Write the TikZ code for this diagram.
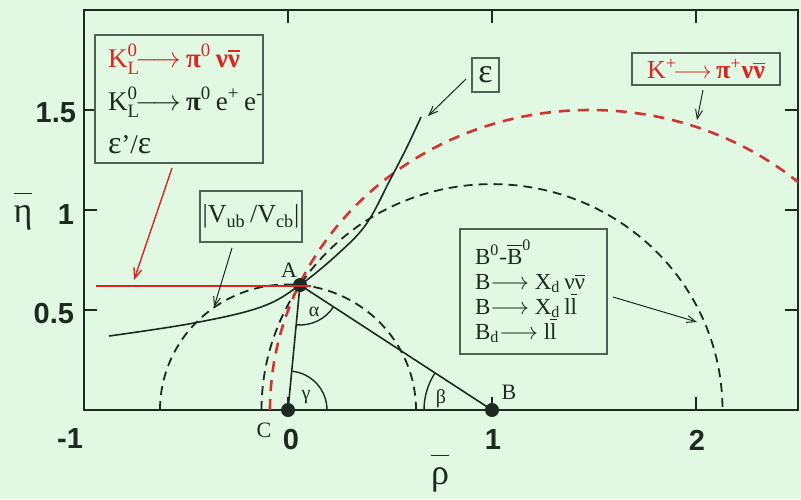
\documentclass[tikz,border=0pt]{standalone}
\usepackage{amsmath}
\usepackage{fontspec}
\setmainfont{Liberation Serif}
\newfontfamily\ticksf{Liberation Sans}
\usetikzlibrary{arrows.meta,angles}

\definecolor{bg}{RGB}{225,249,227}
\definecolor{ink}{RGB}{28,42,32}
\definecolor{boxc}{RGB}{80,98,86}
\definecolor{redt}{RGB}{218,38,32}
\definecolor{redd}{RGB}{212,52,48}

\newcommand{\linesbox}[2]{\vbox{\baselineskip=#1\lineskiplimit=-40pt\relax\lineskip=0pt\relax #2}}
\newcommand{\kline}[1]{\hbox to 71pt{#1\hfil}}
\newcommand{\bline}[1]{\hbox to 58.5pt{#1\hfil}}

\begin{document}
\begin{tikzpicture}[x=0.5pt,y=-0.5pt,
  every node/.style={inner sep=0pt, outer sep=0pt, text=ink},
  frame/.style={draw=ink, line width=1pt},
  tickm/.style={draw=ink, line width=0.9pt},
  ticklab/.style={font=\ticksf\bfseries\fontsize{14.5}{16}\selectfont},
  bdash/.style={draw=ink, line width=0.9pt, dash pattern=on 4.5pt off 3pt},
  rdash/.style={draw=redd, line width=1.3pt, dash pattern=on 5.5pt off 4pt},
  solidc/.style={draw=ink, line width=0.8pt},
  ptr/.style={draw=ink, line width=0.5pt, -{Straight Barb[length=4.5pt,width=3.5pt]}},
  rptr/.style={draw=redt, line width=0.7pt, -{Straight Barb[length=5pt,width=4pt]}},
  lbox/.style={draw=boxc, line width=0.8pt, fill=bg},
  dotn/.style={circle, fill=ink, minimum size=7pt},
  ptlab/.style={font=\fontsize{11}{12}\selectfont},
  anglab/.style={font=\fontsize{10}{11}\selectfont},
  axlab/.style={font=\fontsize{18}{20}\selectfont, anchor=base},
]
\fill[bg] (0,0) rectangle (801,499);
\useasboundingbox (0,0) rectangle (801,499);

% frame and ticks
\draw[frame] (84,10) rectangle (798,410);
\foreach \yy in {110,210,310}{
  \draw[tickm] (84,\yy) -- (97,\yy);
  \draw[tickm] (798,\yy) -- (785,\yy);
}
\foreach \xx in {288,492,696}{
  \draw[tickm] (\xx,10) -- (\xx,23);
  \draw[tickm] (\xx,410) -- (\xx,397);
}

% tick labels
\node[ticklab, anchor=east] (l15) at (76,113) {1.5};
\node[ticklab, anchor=east] (l1) at (74,215) {1};
\node[ticklab, anchor=east] (l05) at (74,314) {0.5};
\node[ticklab] (lm1) at (70,439) {-1};
\node[ticklab] (l0) at (291,440) {0};
\node[ticklab] (lx1) at (493,440) {1};
\node[ticklab] (lx2) at (697,440) {2};
\node[axlab] (etalab) at (23,222) {$\overline{\vphantom{T}\text{η}}$};
\node[axlab] (rholab) at (440,484) {$\overline{\vphantom{T}\text{ρ}}$};

% key points
\coordinate (A) at (300,285);
\coordinate (C) at (288,410);
\coordinate (B) at (492,410);

% curves
\begin{scope}
\clip (84,10) rectangle (798,410);
\draw[bdash] (160,410) arc[start angle=180, end angle=360, x radius=128, y radius=125.6];
\draw[bdash] (261.5,410) arc[start angle=180, end angle=360, x radius=230.5, y radius=225.9];
\draw[rdash] (270,410) arc[start angle=180, end angle=360, x radius=320, y radius=300];
\end{scope}
\draw[solidc] plot[smooth, tension=0.6] coordinates {(109,336) (194,323) (261,307) (300,285) (340,252) (367,223) (390,180) (407,147) (421,117)};

% triangle
\draw[solidc] (A) -- (C);
\draw[solidc] (A) -- (B);
\pic[draw=ink, line width=0.7pt, angle radius=19.5pt] {angle=B--C--A};
\pic[draw=ink, line width=0.7pt, angle radius=20pt] {angle=C--A--B};
\pic[draw=ink, line width=0.7pt, angle radius=34pt] {angle=A--B--C};
\node[dotn] (Adot) at (A) {};
\node[dotn] (Cdot) at (C) {};
\node[dotn] (Bdot) at (B) {};

% red horizontal constraint
\coordinate (redL) at (96,286);
\coordinate (redR) at (311,286);
\draw[draw=redt, line width=1pt] (redL) -- (redR);

% point and angle labels
\node[ptlab] (Alab) at (289,270) {A};
\node[ptlab] (Blab) at (509,392) {B};
\node[ptlab] (Clab) at (264,430) {C};
\node[anglab] (alab) at (314,312) {α};
\node[anglab] (glab) at (306,397) {γ};
\node[anglab] (blab) at (441,399) {β};

% boxes
\node[lbox, anchor=north west, minimum width=84pt, minimum height=64pt,
      font=\fontsize{13.5}{21.5}\selectfont] (klbox) at (95,35)
 {\linesbox{21.5pt}{%
  \kline{\color{redt}K$^{\text{0}}_{\text{L}}$$\!\longrightarrow$\,{\bfseries π}$^{\text{0}}$\,{\bfseries ν$\overline{\text{ν}}$}}
  \kline{K$^{\text{0}}_{\text{L}}$$\!\longrightarrow$\,{\bfseries π}$^{\text{0}}$\,e$^{\text{+}}$\,e$^{\text{-}}$}
  \kline{{\fontsize{16}{21.5}\selectfont ε}'/{\fontsize{16}{21.5}\selectfont ε}}}};

\node[lbox, minimum width=13.5pt, minimum height=17pt, font=\fontsize{17}{18}\selectfont] (epsbox) at (485.5,75) {ε};

\node[lbox, minimum width=74pt, minimum height=16pt, font=\fontsize{13}{14}\selectfont, text=redt] (kpbox) at (706,69)
 {K$^{\text{+}}$$\!\longrightarrow$\,{\bfseries π}$^{\text{+}}${\bfseries ν$\overline{\text{ν}}$}};

\node[lbox, minimum width=51pt, minimum height=25.5pt, font=\fontsize{13}{14}\selectfont] (vbox) at (251,216.5)
 {|V$_{\text{ub}}$\,/V$_{\text{cb}}$|};

\node[lbox, minimum width=73.5pt, minimum height=62.5pt,
      font=\fontsize{11.5}{12.5}\selectfont] (bbox) at (533.5,291.5)
 {\linesbox{12.5pt}{%
  \bline{B$^{\text{0}}$-$\overline{\text{B}}^{\text{0}}$}
  \bline{B$\longrightarrow$ X$_{\text{d}}$\,ν$\overline{\text{ν}}$}
  \bline{B$\longrightarrow$ X$_{\text{d}}$\,l$\overline{\text{l}}$}
  \bline{B$_{\text{d}}$$\longrightarrow$ l$\overline{\text{l}}$}}};

% pointers
\coordinate (epsTip) at (428,116);
\coordinate (kpTip) at (697,120);
\coordinate (vTip) at (214,307);
\coordinate (bTip) at (697,322);
\coordinate (klTip) at (134,280);
\draw[ptr] ([xshift=-3pt,yshift=-2pt]epsbox.west) -- (epsTip);
\draw[ptr] ([xshift=-1.5pt,yshift=-2.5pt]kpbox.south) -- (kpTip);
\draw[ptr] ([xshift=-9.5pt,yshift=-3pt]vbox.south) -- (vTip);
\draw[ptr] ([xshift=3pt,yshift=-2.75pt]bbox.east) -- (bTip);
\draw[rptr] ([xshift=-3.5pt,yshift=-2.5pt]klbox.south) -- (klTip);
\end{tikzpicture}
\end{document}
